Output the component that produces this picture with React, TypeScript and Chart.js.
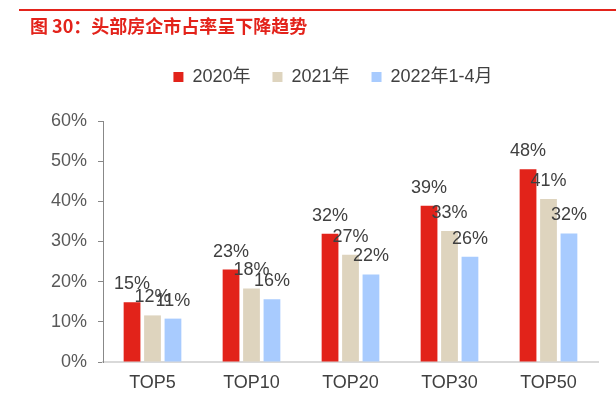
import React, { useEffect, useRef } from "react";
import { Chart, registerables } from "chart.js";

Chart.register(...registerables);

const categories = ["TOP5", "TOP10", "TOP20", "TOP30", "TOP50"];
const seriesNames = ["2020年", "2021年", "2022年1-4月"];
const values2020 = [14.9, 23.0, 31.9, 38.9, 48.0];
const values2021 = [11.6, 18.3, 26.7, 32.6, 40.6];
const values2022 = [10.8, 15.6, 21.8, 26.2, 32.0];
const seriesColors = ["#E2231A", "#DED4BE", "#A8CBFE"];
const yMin = 0;
const yMax = 60;
const yStep = 10;

const FONT = '"Liberation Sans", Arial, "Noto Sans CJK SC", sans-serif';

const labelPlugin = {
  id: "barValueLabels",
  afterDatasetsDraw(chart: any) {
    const ctx = chart.ctx;
    ctx.save();
    ctx.font = `18px ${FONT}`;
    ctx.fillStyle = "#404040";
    ctx.textAlign = "center";
    ctx.textBaseline = "alphabetic";
    chart.data.datasets.forEach((ds: any, i: number) => {
      const meta = chart.getDatasetMeta(i);
      meta.data.forEach((bar: any, j: number) => {
        const v = ds.data[j];
        ctx.fillText(Math.round(v) + "%", bar.x, bar.y - 13);
      });
    });
    ctx.restore();
  },
};

const legendSpacer = {
  id: "legendSpacer",
  beforeInit(chart: any) {
    const orig = chart.legend.fit;
    chart.legend.fit = function () {
      orig.call(this);
      this.height += 25;
    };
  },
  afterLayout(chart: any) {
    const lg = chart.legend;
    if (lg) {
      lg.left += 34;
      lg.right += 34;
    }
  },
};

export default function App() {
  const ref = useRef<HTMLCanvasElement | null>(null);

  useEffect(() => {
    document.body.style.margin = "0";
    const canvas = ref.current;
    if (!canvas) return;
    const datasets = [values2020, values2021, values2022].map((vals, i) => ({
      label: seriesNames[i],
      data: vals,
      backgroundColor: seriesColors[i],
      borderWidth: 0,
      categoryPercentage: 0.62,
      barPercentage: 0.82,
    }));
    const chart = new Chart(canvas, {
      type: "bar",
      data: { labels: categories, datasets },
      plugins: [labelPlugin, legendSpacer],
      options: {
        responsive: false,
        animation: false,
        layout: { padding: { left: 0, right: 18, top: 46, bottom: 3 } },
        plugins: {
          tooltip: { enabled: false },
          title: { display: false },
          legend: {
            display: true,
            position: "top",
            labels: {
              boxWidth: 10,
              boxHeight: 10,
              padding: 22,
              color: "#404040",
              font: { size: 18, family: FONT },
            },
          },
        },
        scales: {
          x: {
            afterFit(scale: any) {
              scale.height = 32;
            },
            grid: { display: false, drawTicks: false },
            border: { display: true, color: "#D9D9D9", width: 2 },
            ticks: {
              color: "#404040",
              padding: 10,
              font: { size: 18, family: FONT },
            },
          },
          y: {
            min: yMin,
            max: yMax,
            afterFit(scale: any) {
              scale.width = 103;
            },
            grid: {
              display: true,
              drawOnChartArea: false,
              drawTicks: true,
              tickLength: 5,
              color: "#888888",
            },
            border: { display: true, color: "#888888", width: 1 },
            ticks: {
              stepSize: yStep,
              color: "#595959",
              padding: 11,
              font: { size: 18, family: FONT },
              callback: (v: any) => v + "%",
            },
          },
        },
      },
    });
    return () => chart.destroy();
  }, []);

  return (
    <div style={{ position: "fixed", left: 0, top: 0, width: 616, height: 397, background: "#fff" }}>
      <div
        style={{
          position: "absolute",
          left: 19,
          top: 9,
          width: 597,
          height: 2,
          background: "#E3231B",
        }}
      />
      <div
        style={{
          position: "absolute",
          left: 30,
          top: 13,
          fontFamily: '"Noto Sans CJK SC", sans-serif',
          fontWeight: "bold",
          fontSize: 18,
          lineHeight: "24px",
          color: "#E3231B",
          whiteSpace: "nowrap",
          zIndex: 2,
        }}
      >
        图 30：头部房企市占率呈下降趋势
      </div>
      <canvas ref={ref} width={616} height={397} style={{ position: "absolute", left: 0, top: 0 }} />
    </div>
  );
}
